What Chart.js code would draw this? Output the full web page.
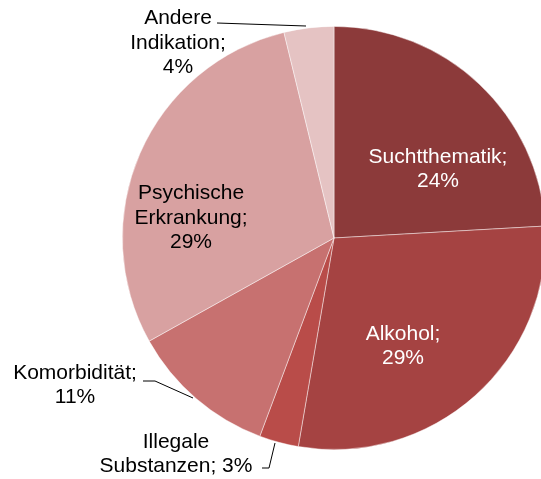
<!DOCTYPE html>
<html><head><meta charset="utf-8">
<script src="https://cdn.jsdelivr.net/npm/chart.js@4.4.0/dist/chart.umd.min.js"></script>
<style>
html,body{margin:0;padding:0;background:#fff;overflow:hidden;}
#wrap{position:absolute;left:0;top:0;width:541px;height:479px;overflow:hidden;}
#c{position:absolute;left:0;top:0;}
</style></head>
<body>
<div id="wrap"><canvas id="c" width="600" height="479"></canvas></div>
<script>
const categories = ["Suchtthematik", "Alkohol", "Illegale Substanzen", "Komorbidität", "Psychische Erkrankung", "Andere Indikation"];
const shares = [24.1, 28.6, 3.0, 11.2, 29.3, 3.8];
const shareLabels = ["24%", "29%", "3%", "11%", "29%", "4%"];
const colors = ["#8C3A3A", "#A54342", "#B94C49", "#C77170", "#D8A1A1", "#E5C3C3"];

// label layout: lines, offset of block centre from pie centre, colour
const labelLayout = [
  {lines: ["Suchtthematik;", shareLabels[0]], dx: 104, dy: -69, color: "#fff"},
  {lines: ["Alkohol;", shareLabels[1]], dx: 69, dy: 108, color: "#fff"},
  {lines: ["Illegale", "Substanzen; " + shareLabels[2]], dx: -158, dy: 216, color: "#000",
    leader: [[-72, 230], [-65, 230], [-59, 205]]},
  {lines: ["Komorbidität;", shareLabels[3]], dx: -259, dy: 147, color: "#000",
    leader: [[-191, 143], [-179, 143], [-141, 160]]},
  {lines: ["Psychische", "Erkrankung;", shareLabels[4]], dx: -143, dy: -20, color: "#000"},
  {lines: ["Andere", "Indikation;", shareLabels[5]], dx: -156, dy: -195, color: "#000",
    leader: [[-117, -215], [-28, -212]]}
];

const labelPlugin = {
  id: 'pieLabels',
  afterDatasetsDraw(chart) {
    const ctx = chart.ctx;
    const arc = chart.getDatasetMeta(0).data[0];
    const cx = arc.x, cy = arc.y;
    ctx.save();
    ctx.font = '21px "Liberation Sans", Arial, sans-serif';
    ctx.textAlign = 'center';
    ctx.textBaseline = 'middle';
    const lh = 24.5;
    labelLayout.forEach(l => {
      if (l.leader) {
        ctx.strokeStyle = '#000';
        ctx.lineWidth = 1;
        ctx.beginPath();
        l.leader.forEach((p, i) => {
          const x = cx + p[0], y = cy + p[1];
          if (i === 0) ctx.moveTo(x, y); else ctx.lineTo(x, y);
        });
        ctx.stroke();
      }
      ctx.fillStyle = l.color;
      const n = l.lines.length;
      l.lines.forEach((t, i) => {
        ctx.fillText(t, cx + l.dx, cy + l.dy + (i - (n - 1) / 2) * lh);
      });
    });
    ctx.restore();
  }
};

new Chart(document.getElementById('c'), {
  type: 'pie',
  data: {
    labels: categories,
    datasets: [{
      data: shares,
      backgroundColor: colors,
      borderColor: 'rgba(255,255,255,0.6)',
      borderWidth: 0.75
    }]
  },
  options: {
    responsive: false,
    animation: false,
    layout: {padding: {left: 122, right: 54, top: 26, bottom: 29}},
    plugins: {legend: {display: false}, tooltip: {enabled: false}}
  },
  plugins: [labelPlugin]
});
</script>
</body></html>
